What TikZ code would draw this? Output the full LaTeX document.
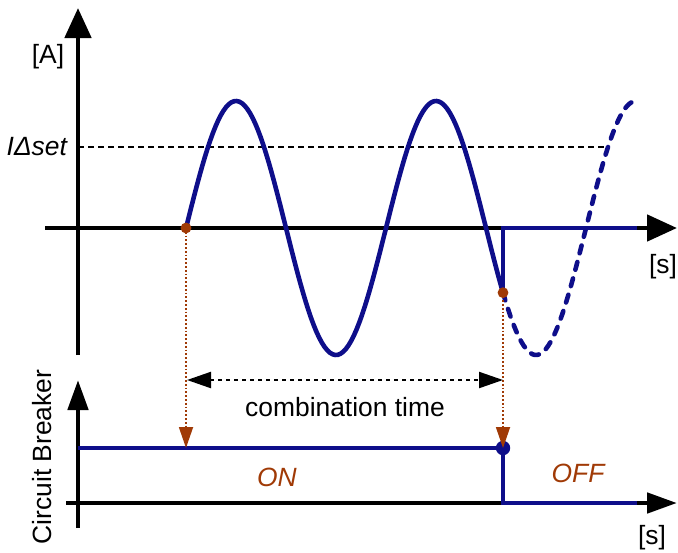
\documentclass[tikz,border=0pt]{standalone}
\usepackage{fontspec}
\setmainfont{Liberation Sans}
\definecolor{azulcb}{RGB}{14, 14, 138}
\definecolor{naranjacb}{RGB}{160, 58, 6}
\usetikzlibrary{arrows.meta}

\begin{document}
\begin{tikzpicture}[x=0.5pt, y=-0.5pt, font=\fontsize{13.2}{15}\selectfont,
    eje/.style={line width=2.4pt, -{Triangle[length=15pt, width=13pt]}},
    ejeb/.style={line width=2.4pt, -{Triangle[length=15pt, width=10pt]}},
    onda/.style={azulcb, line width=2.3pt},
    guia/.style={naranjacb, densely dotted, line width=0.9pt, -{Triangle[length=10.5pt, width=7pt]}}]
        \useasboundingbox (0,0) rectangle (678,552);
        % corriente
        \draw[eje] (78,355) -- (78,8);
        \draw[eje] (45,228) -- (677,228);
        \draw[line width=1.1pt, dash pattern=on 3pt off 2pt] (78,147) -- (609,147);
        \node[anchor=east, font=\fontsize{13.2}{15}\selectfont\itshape] (iset) at (74,147) {IΔset};
        \node (amp) at (48,57) {[A]};
        \node (seg1) at (663,267) {[s]};
        \draw[onda] plot[domain=186:503, samples=120] (\x, {228 - 127*sin((\x-186)*1.8)});
        \draw[onda, line cap=round, dash pattern=on 4pt off 4.5pt]
            plot[domain=503:637, samples=60] (\x, {228 - 127*sin((\x-186)*1.8)});
        \coordinate (inicio) at (186,228);
        \coordinate (disparo) at (503,{228 - 127*sin((503-186)*1.8)});
        \draw[azulcb, line width=1.9pt] (disparo) -- (503,228) -- (637,228);
        % interruptor
        \draw[ejeb] (78,528) -- (78,380);
        \draw[ejeb] (66,503) -- (677,503);
        \node[rotate=90] (cb) at (42,457) {Circuit Breaker};
        \node (seg2) at (652,538) {[s]};
        \coordinate (on1) at (186,448);
        \coordinate (on2) at (503,448);
        \draw[azulcb, line width=1.8pt] (78,448) -- (on2) -- (503,503) -- (637,503);
        \fill[azulcb] (on2) circle (3.6pt);
        \node[naranjacb, font=\fontsize{13.2}{15}\selectfont\itshape] (on) at (277,477) {ON};
        \node[naranjacb, font=\fontsize{13.2}{15}\selectfont\itshape] (off) at (578,473) {OFF};
        % tiempo
        \draw[guia] (inicio) -- (on1);
        \draw[guia] (disparo) -- (on2);
        \fill[naranjacb] (inicio) circle (2.7pt);
        \fill[naranjacb] (disparo) circle (2.7pt);
        \draw[line width=1.1pt, dash pattern=on 2pt off 2pt, {Triangle[length=12pt, width=8pt]}-{Triangle[length=12pt, width=8pt]}]
            (187,380) -- (503,380) node[midway, below=5pt] (ct) {combination time};
      \end{tikzpicture}
\end{document}
